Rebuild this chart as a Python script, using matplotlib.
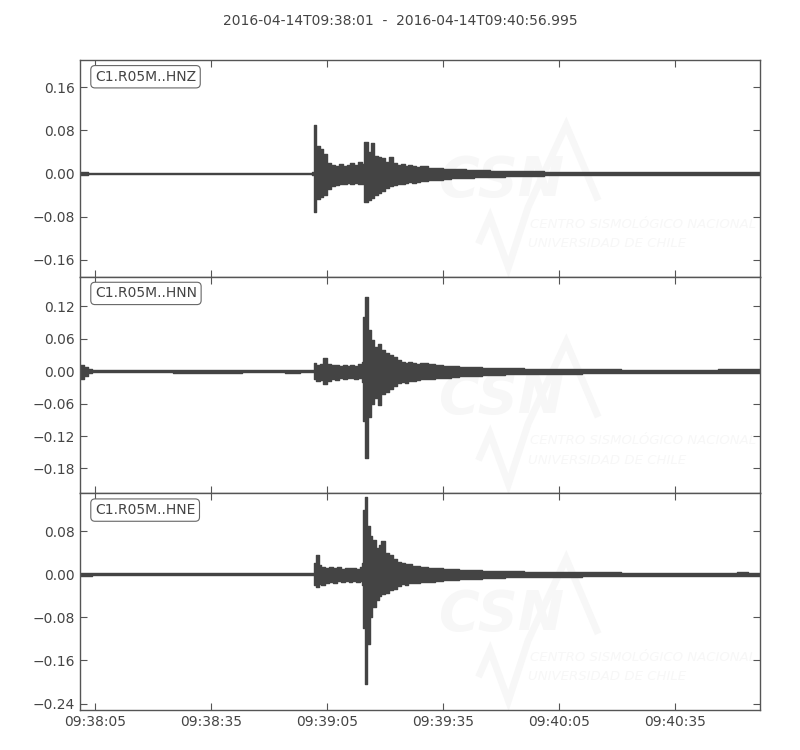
import matplotlib
matplotlib.use("Agg")
from matplotlib import pyplot as plt
import numpy as np

title = "2016-04-14T09:38:01  -  2016-04-14T09:40:56.995"
duration = 175.995  # seconds after 09:38:01

x_ticks = [4, 34, 64, 94, 124, 154]
x_labels = ["09:38:05", "09:38:35", "09:39:05", "09:39:35", "09:40:05", "09:40:35"]

# envelope of each trace: bin start (s), max, min
hnz_t = [0, 2, 60, 60.5, 61, 62, 63, 64, 65, 66, 67, 68, 69, 70, 71, 72, 73, 73.5, 74.5, 75.2,
         76, 77, 78, 79, 80, 81, 82, 83, 84, 85, 86, 87, 88, 90, 92, 94, 96, 98, 100, 102,
         106, 110, 115, 120, 125, 130, 176]
hnz_hi = [0.003, 0.0015, 0.002, 0.089, 0.050, 0.046, 0.036, 0.020, 0.016, 0.014,
          0.018, 0.013, 0.016, 0.019, 0.015, 0.022, 0.017, 0.059, 0.040, 0.056,
          0.033, 0.030, 0.028, 0.022, 0.030, 0.020, 0.016, 0.018, 0.014, 0.015,
          0.013, 0.012, 0.014, 0.011, 0.010, 0.009, 0.008, 0.008, 0.007, 0.006,
          0.005, 0.005, 0.004, 0.003, 0.0028, 0.002, 0.002]
hnz_lo = [-0.003, -0.0015, -0.002, -0.072, -0.048, -0.044, -0.040, -0.028, -0.024, -0.022,
          -0.020, -0.019, -0.018, -0.020, -0.017, -0.019, -0.020, -0.053, -0.050, -0.045,
          -0.040, -0.036, -0.032, -0.027, -0.024, -0.022, -0.020, -0.019, -0.018, -0.016,
          -0.017, -0.016, -0.014, -0.013, -0.012, -0.010, -0.009, -0.008, -0.008, -0.006,
          -0.006, -0.005, -0.004, -0.0035, -0.003, -0.002, -0.002]

hnn_t = [0, 1, 2, 3, 24, 42, 53, 57, 60.5, 61, 62, 63, 64, 65, 66, 67, 68, 69, 70, 71,
         72, 73, 73.3, 73.8, 74.5, 75.2, 76, 77, 78, 79, 80, 81, 82, 83, 84, 85, 86, 87, 88, 90,
         92, 94, 96, 98, 100, 104, 110, 115, 120, 130, 140, 165, 176]
hnn_hi = [0.012, 0.007, 0.004, 0.0015, 0.003, 0.0015, 0.003, 0.0015, 0.015, 0.012,
          0.014, 0.024, 0.013, 0.011, 0.012, 0.010, 0.011, 0.009, 0.012, 0.010,
          0.014, 0.018, 0.101, 0.138, 0.077, 0.058, 0.045, 0.050, 0.040, 0.033,
          0.030, 0.026, 0.020, 0.018, 0.016, 0.018, 0.015, 0.014, 0.016, 0.013,
          0.012, 0.010, 0.009, 0.008, 0.007, 0.006, 0.006, 0.005, 0.0045, 0.0035,
          0.003, 0.004, 0.004]
hnn_lo = [-0.014, -0.008, -0.004, -0.0015, -0.003, -0.0015, -0.003, -0.0015, -0.015, -0.018,
          -0.016, -0.024, -0.018, -0.014, -0.016, -0.013, -0.014, -0.012, -0.013, -0.014,
          -0.012, -0.020, -0.092, -0.160, -0.085, -0.060, -0.050, -0.062, -0.042, -0.038,
          -0.032, -0.028, -0.022, -0.020, -0.022, -0.018, -0.018, -0.016, -0.015, -0.014,
          -0.013, -0.012, -0.010, -0.009, -0.008, -0.007, -0.006, -0.005, -0.0045, -0.0035,
          -0.003, -0.004, -0.004]

hne_t = [0, 3, 60.5, 61, 61.8, 62.5, 63.5, 64.5, 65.5, 66.5, 67.5, 68.5, 69.5, 70.5, 71.5,
         72.5, 73, 73.3, 73.8, 74.4, 75, 75.6, 76.5, 77.5, 78, 79, 80, 81, 82, 83,
         84, 85, 86, 87, 88, 90, 92, 94, 96, 98, 100, 104, 110, 115, 120, 130, 140, 170, 173, 176]
hne_hi = [0.003, 0.0015, 0.020, 0.035, 0.017, 0.014, 0.012, 0.013, 0.011, 0.014,
          0.010, 0.012, 0.011, 0.012, 0.010, 0.013, 0.020, 0.119, 0.144, 0.090,
          0.070, 0.063, 0.048, 0.055, 0.061, 0.039, 0.035, 0.028, 0.022, 0.020,
          0.018, 0.019, 0.016, 0.015, 0.014, 0.012, 0.011, 0.010, 0.009, 0.008,
          0.007, 0.006, 0.006, 0.005, 0.004, 0.0035, 0.0025, 0.004, 0.0025, 0.0025]
hne_lo = [-0.003, -0.0015, -0.020, -0.024, -0.018, -0.020, -0.016, -0.014, -0.016, -0.013,
          -0.015, -0.012, -0.014, -0.013, -0.014, -0.012, -0.020, -0.100, -0.203, -0.129,
          -0.080, -0.060, -0.048, -0.040, -0.036, -0.034, -0.030, -0.028, -0.022, -0.019,
          -0.020, -0.017, -0.017, -0.016, -0.015, -0.014, -0.012, -0.011, -0.010, -0.009,
          -0.008, -0.007, -0.006, -0.005, -0.0045, -0.0035, -0.0025, -0.004, -0.0025, -0.0025]

labels = ["C1.R05M..HNZ", "C1.R05M..HNN", "C1.R05M..HNE"]
ylims = [(-0.191, 0.210), (-0.226, 0.175), (-0.252, 0.150)]
yticks = [[-0.16, -0.08, 0.0, 0.08, 0.16],
          [-0.18, -0.12, -0.06, 0.0, 0.06, 0.12],
          [-0.24, -0.16, -0.08, 0.0, 0.08]]

traces = [(hnz_t, hnz_hi, hnz_lo), (hnn_t, hnn_hi, hnn_lo), (hne_t, hne_hi, hne_lo)]

# ------- figure ---------
fig = plt.figure(figsize=(8, 7.5), dpi=100)
fig.patch.set_facecolor("white")
txt = "#444444"
trace_c = "#444444"
fig.text(0.5, 0.972, title, ha="center", va="center", fontsize=10, color=txt)

left, right, top, bottom = 0.1, 0.95, 0.92, 0.0533
h = (top - bottom) / 3.0
axes = []
for i in range(3):
    ax = fig.add_axes([left, top - (i + 1) * h, right - left, h])
    axes.append(ax)
    t, hi, lo = traces[i]

    # faint CSN watermark
    wm = "#f7f7f7"
    ax.plot([0.588, 0.603, 0.630, 0.659, 0.715, 0.760], [0.167, 0.275, 0.043, 0.321, 0.699, 0.367],
            transform=ax.transAxes, color=wm, lw=5, zorder=0, solid_joinstyle="miter")
    ax.text(0.62, 0.44, "CSN", transform=ax.transAxes, ha="center", va="center",
            fontsize=40, fontweight="bold", style="italic", color=wm, zorder=0)
    ax.text(0.662, 0.243, "CENTRO SISMOLÓGICO NACIONAL", transform=ax.transAxes,
            ha="left", va="center", fontsize=9.5, style="italic", color=wm, zorder=0)
    ax.text(0.659, 0.153, "UNIVERSIDAD DE CHILE", transform=ax.transAxes,
            ha="left", va="center", fontsize=9.5, style="italic", color=wm, zorder=0)

    ax.fill_between(np.array(t), np.array(lo), np.array(hi), step="post",
                    facecolor=trace_c, edgecolor=trace_c, lw=1.0, zorder=2)

    ax.set_xlim(0, duration)
    ax.set_ylim(*ylims[i])
    ax.set_yticks(yticks[i])
    ax.set_xticks(x_ticks)
    if i == 2:
        ax.set_xticklabels(x_labels)
    else:
        ax.set_xticklabels([])
    ax.tick_params(direction="in", top=True, right=True, length=5, width=0.8,
                   colors="#555555", labelcolor=txt, labelsize=10)
    for s in ax.spines.values():
        s.set_color("#555555")
        s.set_linewidth(1.0)
    ax.text(0.022, 0.955, labels[i], transform=ax.transAxes, ha="left", va="top",
            fontsize=10, color=txt, zorder=5,
            bbox=dict(boxstyle="round,pad=0.3", facecolor="white", edgecolor="#666666", lw=0.8))

plt.savefig("out.png", dpi=100)
